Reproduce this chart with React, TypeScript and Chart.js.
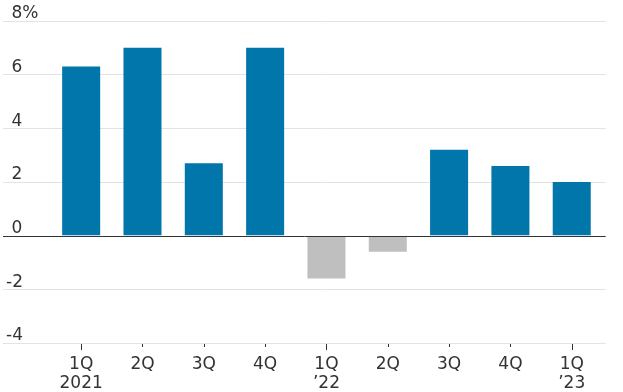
import { useEffect, useRef } from 'react';
import { Chart, registerables } from 'chart.js';

Chart.register(...registerables);

const categories: string[][] = [
  ['1Q', '2021'], ['2Q'], ['3Q'], ['4Q'],
  ['1Q', '’22'], ['2Q'], ['3Q'], ['4Q'],
  ['1Q', '’23'],
];
const growth: number[] = [6.3, 7.0, 2.7, 7.0, -1.6, -0.6, 3.2, 2.6, 2.0];
const yMin = -4;
const yMax = 8;
const yStep = 2;

const BLUE = '#0076ab';
const GRAY = '#bfbfbf';
const TEXT = '#333333';
const GRID = '#e3e3e3';
const ZERO = '#333333';
const FONT = "'DejaVu Sans', sans-serif";

const LEFT_EXT = 47.5;
const RIGHT_EXT = 3.3;

const axisMarks = {
  id: 'axisMarks',
  afterDatasetsDraw(chart: any) {
    const { ctx, chartArea, scales } = chart;
    const x = scales.x;
    const y = scales.y;
    ctx.save();
    ctx.strokeStyle = ZERO;
    ctx.lineWidth = 1;
    const y0 = Math.round(y.getPixelForValue(0)) + 0.5;
    ctx.beginPath();
    ctx.moveTo(chartArea.left - LEFT_EXT, y0);
    ctx.lineTo(chartArea.right + RIGHT_EXT, y0);
    ctx.stroke();
    const yb = Math.round(y.getPixelForValue(yMin));
    ctx.beginPath();
    categories.forEach((lbl, i) => {
      const px = Math.round(x.getPixelForTick(i)) + 0.5;
      const len = lbl[0] === '1Q' ? 6 : 3;
      ctx.moveTo(px, yb + 1);
      ctx.lineTo(px, yb + 1 + len);
    });
    ctx.stroke();
    ctx.restore();
  },
};

const gridColor = (c: any) => (c.tick && c.tick.value === 0 ? 'rgba(0,0,0,0)' : GRID);

export default function App() {
  const ref = useRef<HTMLCanvasElement | null>(null);
  useEffect(() => {
    if (!ref.current) return;
    const chart = new Chart(ref.current, {
      type: 'bar',
      data: {
        labels: categories,
        datasets: [
          {
            data: growth,
            backgroundColor: growth.map((v) => (v < 0 ? GRAY : BLUE)),
            borderWidth: 0,
            barPercentage: 0.62,
            categoryPercentage: 1,
          },
        ],
      },
      options: {
        animation: false,
        responsive: true,
        maintainAspectRatio: false,
        layout: { padding: { left: 6, right: 17.3, top: 21, bottom: 0 } },
        plugins: { legend: { display: false }, tooltip: { enabled: false } },
        scales: {
          x: {
            grid: { display: false },
            border: { display: false },
            ticks: {
              color: TEXT,
              font: { family: FONT, size: 17, lineHeight: 1.12 },
              padding: 4,
              maxRotation: 0,
              autoSkip: false,
            },
            afterFit: (s: any) => { s.height = 49; },
          },
          y: {
            min: yMin,
            max: yMax,
            border: { display: false },
            grid: {
              color: gridColor,
              tickColor: gridColor,
              lineWidth: 1,
              drawTicks: true,
              tickLength: LEFT_EXT,
            },
            ticks: {
              stepSize: yStep,
              crossAlign: 'far',
              labelOffset: -7,
              padding: 0,
              color: TEXT,
              font: { family: FONT, size: 17 },
              callback: (v: any) => {
                const n = Number(v);
                if (n === yMax) return '\u00a0' + n + '%';
                if (n < 0) return '-' + Math.abs(n);
                return '\u00a0' + n;
              },
            },
            afterFit: (s: any) => { s.width = 44.5; },
          },
          y2: {
            position: 'right',
            min: yMin,
            max: yMax,
            border: { display: false },
            grid: {
              drawOnChartArea: false,
              color: gridColor,
              tickColor: gridColor,
              drawTicks: true,
              tickLength: RIGHT_EXT,
            },
            ticks: { stepSize: yStep, display: false },
            afterFit: (s: any) => { s.width = RIGHT_EXT; },
          },
        },
      },
      plugins: [axisMarks],
    } as any);
    return () => chart.destroy();
  }, []);
  return (
    <div style={{ position: 'absolute', left: 0, top: 0, width: 623, height: 392 }}>
      <canvas ref={ref} />
    </div>
  );
}
